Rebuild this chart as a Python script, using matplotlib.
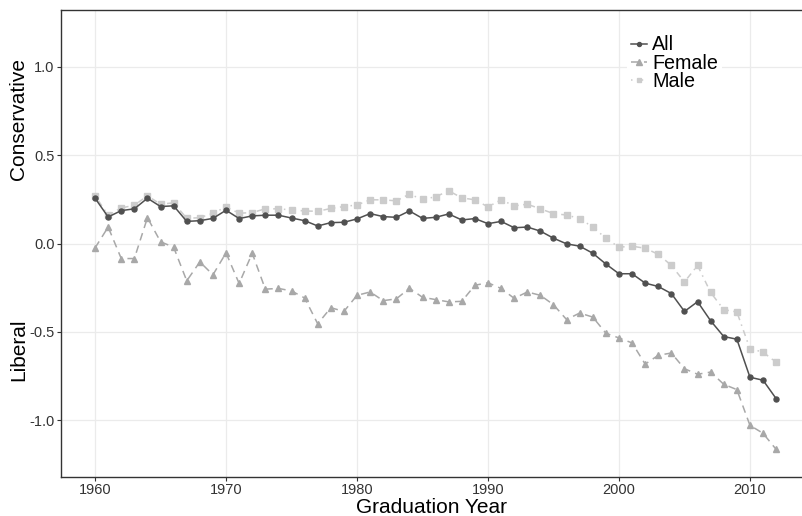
import numpy as np
import matplotlib
matplotlib.use('Agg')
import matplotlib.pyplot as plt

plt.rcParams['font.family'] = ['Liberation Sans', 'DejaVu Sans']

years = np.arange(1960, 2013)

all_grads = [0.256, 0.150, 0.186, 0.196, 0.256, 0.209, 0.213, 0.125, 0.129, 0.142,
             0.188, 0.141, 0.156, 0.160, 0.160, 0.144, 0.129, 0.099, 0.118, 0.120,
             0.139, 0.169, 0.152, 0.148, 0.184, 0.142, 0.148, 0.167, 0.133, 0.141,
             0.112, 0.125, 0.089, 0.093, 0.070, 0.030, -0.002, -0.015, -0.055, -0.116,
             -0.171, -0.171, -0.224, -0.243, -0.283, -0.384, -0.329, -0.437, -0.526, -0.541,
             -0.756, -0.773, -0.877]

female = [-0.025, 0.093, -0.085, -0.085, 0.146, 0.010, -0.021, -0.211, -0.104, -0.177,
          -0.053, -0.226, -0.055, -0.258, -0.254, -0.268, -0.308, -0.454, -0.363, -0.384,
          -0.293, -0.274, -0.323, -0.313, -0.253, -0.304, -0.317, -0.330, -0.327, -0.236,
          -0.222, -0.254, -0.310, -0.274, -0.293, -0.346, -0.430, -0.393, -0.416, -0.507,
          -0.534, -0.562, -0.682, -0.632, -0.619, -0.708, -0.739, -0.727, -0.796, -0.826,
          -1.028, -1.073, -1.164]

male = [0.270, 0.160, 0.201, 0.216, 0.270, 0.222, 0.230, 0.142, 0.146, 0.171,
        0.207, 0.171, 0.175, 0.196, 0.196, 0.190, 0.184, 0.182, 0.198, 0.209,
        0.218, 0.247, 0.247, 0.241, 0.279, 0.249, 0.264, 0.298, 0.258, 0.247,
        0.207, 0.247, 0.213, 0.222, 0.196, 0.169, 0.161, 0.141, 0.093, 0.030,
        -0.021, -0.015, -0.027, -0.061, -0.124, -0.217, -0.124, -0.277, -0.374, -0.387,
        -0.595, -0.614, -0.672]

fig = plt.figure(figsize=(8.03, 5.16), dpi=100)
ax = fig.add_axes([61 / 803, 39 / 516, 742 / 803, 467 / 516])

ax.plot(years, all_grads, color='#505050', lw=1.1, marker='o', ms=3.6, label='All', zorder=3)
ax.plot(years, female, color='#a8a8a8', lw=1.1, ls=(0, (5, 3.5)), marker='^', ms=5,
        label='Female', zorder=2)
ax.plot(years, male, color='#cccccc', lw=1.1, ls=(0, (1, 3, 4, 3)), marker='s', ms=4,
        label='Male', zorder=1)

ax.set_xlim(1957.4, 2014.05)
ax.set_ylim(-1.32, 1.32)
ax.set_xticks([1960, 1970, 1980, 1990, 2000, 2010])
ax.set_yticks([-1.0, -0.5, 0.0, 0.5, 1.0])
ax.set_yticklabels(['-1.0', '-0.5', '0.0', '0.5', '1.0'])
ax.grid(True, color='#ebebeb', lw=0.9, zorder=0)
ax.set_axisbelow(True)
ax.tick_params(labelsize=10.5, labelcolor='#333333', color='#333333', length=3, width=0.8,
               pad=1.5)
for side in ['left', 'bottom', 'top']:
    ax.spines[side].set_color('#333333')
    ax.spines[side].set_linewidth(1.0)
ax.spines['right'].set_visible(False)

fig.text(432 / 803, 1 - 513 / 516, 'Graduation Year', fontsize=15, ha='center',
         va='baseline')
fig.text(19 / 803, 1 - 119 / 516, 'Conservative', rotation=90, fontsize=15,
         ha='center', va='center')
fig.text(19 / 803, 1 - 350 / 516, 'Liberal', rotation=90, fontsize=15,
         ha='center', va='center')

leg = ax.legend(loc='upper left', bbox_to_anchor=(0.75, 0.975), fontsize=14.2,
                frameon=True, facecolor='white', edgecolor='none', framealpha=1,
                handlelength=0.8, handletextpad=0.25, labelspacing=-0.03,
                borderpad=0.2, markerscale=0.8)

fig.savefig('out.png', dpi=100)
